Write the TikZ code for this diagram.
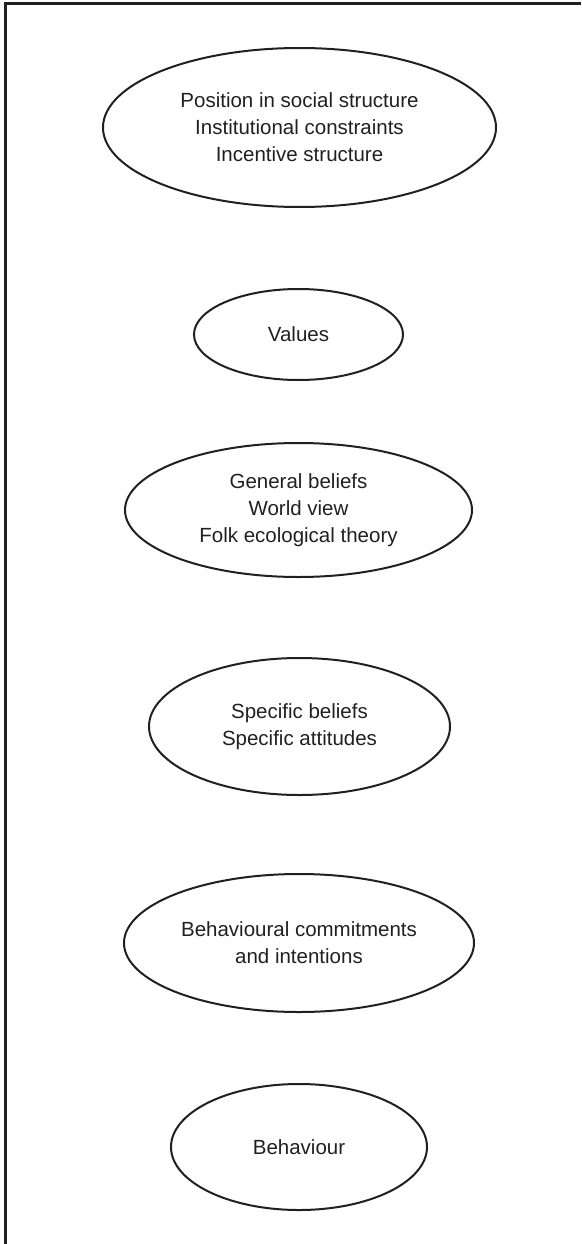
\documentclass[tikz,border=0pt]{standalone}
\usepackage{fontspec}
\setmainfont{Liberation Sans}
\usepackage{tikz}
\usetikzlibrary{shapes.geometric}
\definecolor{ink}{RGB}{35,31,32}
\tikzset{oval/.style = {draw = ink, text = ink, ellipse, line width = 2, inner sep = 0, align = center,
                        font = \fontsize{20.5}{27}\selectfont}}

\begin{document}
\begin{tikzpicture}[x = 1pt, y = -1pt]
      \useasboundingbox (0, 0) rectangle (581, 1244);
      \draw [ink, line width = 2.6] (5.5, 1244) -- (5.5, 3.5) -- (581, 3.5);

      \node [oval, minimum width = 393, minimum height = 159] (position) at (299.5, 127.5)
            {Position in social structure\\Institutional constraints\\Incentive structure};

      \node [oval, minimum width = 209, minimum height = 91] (values) at (298.5, 334.5) {Values};

      \node [oval, minimum width = 347, minimum height = 134] (general) at (298.5, 510)
            {General beliefs\\World view\\Folk ecological theory};

      \node [oval, minimum width = 301, minimum height = 137] (specific) at (299.5, 726.5)
            {Specific beliefs\\Specific attitudes};

      \node [oval, minimum width = 350, minimum height = 138] (commit) at (299, 943)
            {Behavioural commitments\\and intentions};

      \node [oval, minimum width = 256, minimum height = 126] (behaviour) at (299, 1147) {Behaviour};
    \end{tikzpicture}
\end{document}
